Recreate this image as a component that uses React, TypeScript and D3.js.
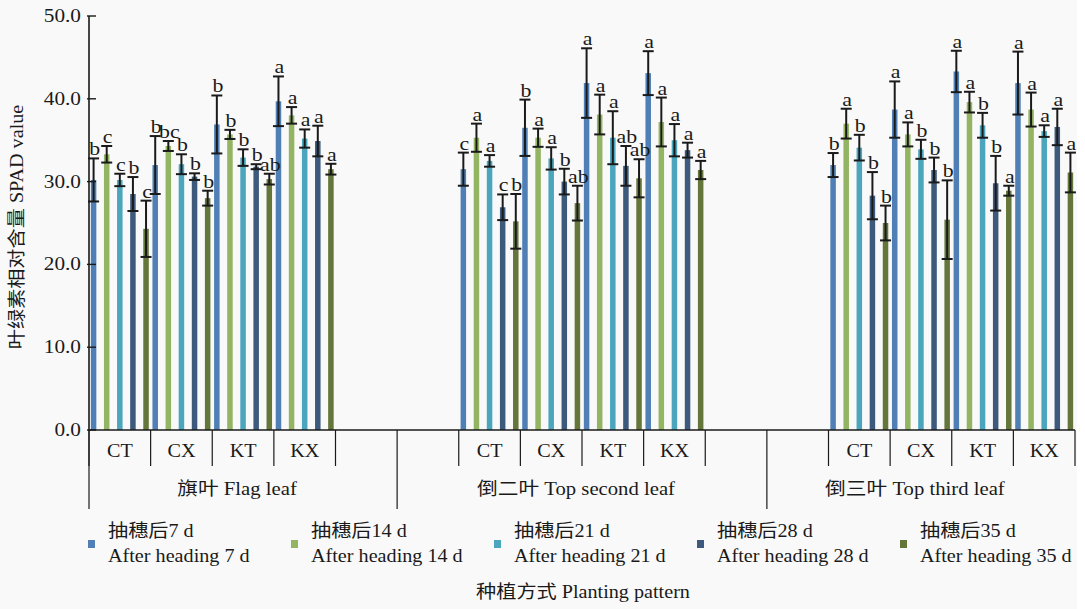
import * as d3 from "d3";
import React from "react";

// leaf positions and planting patterns
const leaves = ["旗叶 Flag leaf", "倒二叶 Top second leaf", "倒三叶 Top third leaf"];
const patterns = ["CT", "CX", "KT", "KX"];

// series: days after heading
const seriesKeys = ["d7", "d14", "d21", "d28", "d35"];
const legendCn = ["抽穗后7 d", "抽穗后14 d", "抽穗后21 d", "抽穗后28 d", "抽穗后35 d"];
const legendEn = ["After heading 7 d", "After heading 14 d", "After heading 21 d", "After heading 28 d", "After heading 35 d"];
const colors = ["#4f7fb5", "#93b462", "#4aa5bd", "#3d5a7c", "#64763a"];

// values ordered Flag CT,CX,KT,KX | Second CT..KX | Third CT..KX
const mean7 = [30.2, 32.0, 36.9, 39.7, 31.5, 36.5, 41.9, 43.1, 32.0, 38.7, 43.3, 41.9];
const err7 = [2.6, 3.5, 3.5, 3.0, 2.0, 3.4, 4.2, 2.65, 1.45, 3.4, 2.5, 3.8];
const sig7 = ["b", "b", "b", "a", "c", "b", "a", "a", "b", "a", "a", "a"];

const mean14 = [33.3, 34.3, 35.7, 38.0, 35.3, 35.3, 38.1, 37.2, 37.0, 35.7, 39.6, 38.7];
const err14 = [1.0, 0.6, 0.55, 1.0, 1.7, 1.1, 2.4, 2.95, 1.8, 1.45, 1.25, 2.05];
const sig14 = ["c", "bc", "b", "a", "a", "a", "a", "a", "a", "a", "a", "a"];

const mean21 = [30.2, 32.1, 32.9, 35.2, 32.5, 32.8, 35.3, 35.0, 34.1, 33.9, 36.8, 36.1];
const err21 = [0.75, 1.2, 1.0, 1.1, 0.7, 1.35, 3.2, 1.95, 1.55, 1.15, 1.5, 0.7];
const sig21 = ["c", "b", "b", "a", "a", "a", "a", "a", "b", "b", "b", "a"];

const mean28 = [28.5, 30.6, 31.8, 34.9, 26.9, 30.0, 31.9, 33.8, 28.3, 31.4, 29.8, 36.6];
const err28 = [2.05, 0.4, 0.3, 1.85, 1.55, 1.55, 2.4, 0.9, 2.85, 1.5, 3.3, 2.2];
const sig28 = ["b", "b", "b", "a", "c", "b", "ab", "a", "b", "b", "b", "a"];

const mean35 = [24.3, 28.0, 30.3, 31.5, 25.2, 27.4, 30.4, 31.4, 25.0, 25.4, 28.9, 31.1];
const err35 = [3.4, 0.9, 0.65, 0.65, 3.3, 2.1, 2.3, 1.1, 2.1, 4.75, 0.6, 2.4];
const sig35 = ["c", "b", "ab", "a", "b", "ab", "ab", "a", "b", "b", "a", "a"];

const yTicks = [0, 10, 20, 30, 40, 50];

const means = [mean7, mean14, mean21, mean28, mean35];
const errs = [err7, err14, err21, err28, err35];
const sigs = [sig7, sig14, sig21, sig28, sig35];

const W = 1085, H = 609;
const m = { l: 89, r: 1075, t: 16, b: 430 };
const FONT = "'Liberation Serif','Times New Roman','Noto Sans CJK SC',serif";

const T: React.FC<{ x: number, y: number, size?: number, anchor?: string, rotate?: number, children: React.ReactNode }> =
  ({ x, y, size = 18, anchor = "middle", rotate = 0, children }) => (
    <text transform={`translate(${x},${y}) rotate(${rotate}) scale(1.12,1)`} textAnchor={anchor}
      fontSize={size} fontFamily={FONT} fill="#1a1a1a">{children}</text>
  )

const App: React.FC = () => {
  // slot domain: 4 patterns per leaf, two empty slots between leaves
  const slots: string[] = []
  leaves.forEach((_, i) => {
    patterns.forEach(p => slots.push(`${i}-${p}`))
    if (i < leaves.length - 1) { slots.push(`gap${i}a`); slots.push(`gap${i}b`) }
  })

  const x0 = d3.scaleBand(slots, [m.l, m.r]).padding(0)
  const x1 = d3.scaleBand(seriesKeys, [0, x0.bandwidth()]).paddingInner(0.58).paddingOuter(0.14)
  const y = d3.scaleLinear([0, 50], [m.b, m.t])

  const cats = leaves.flatMap((_, i) => patterns.map(p => `${i}-${p}`))
  const legendX = d3.scalePoint(seriesKeys, [108, 920])

  const shortTicks: number[] = []
  leaves.forEach((_, i) => {
    patterns.forEach(p => shortTicks.push(x0(`${i}-${p}`)!))
    shortTicks.push(x0(`${i}-KX`)! + x0.bandwidth())
  })
  const longTicks = [m.l, ...leaves.slice(0, -1).map((_, i) => x0(`gap${i}b`)!)]
  const leafSpan = (i: number) => {
    const a = i === 0 ? m.l : x0(`gap${i - 1}b`)!
    const b = i === leaves.length - 1 ? m.r : x0(`gap${i}b`)!
    return (a + b) / 2
  }

  return (
    <svg width={W} height={H} style={{ position: "absolute", left: 0, top: 0 }}>
      <rect width={W} height={H} fill="#f9f9f9" />
      <rect x={1077} width={W - 1077} height={H} fill="#ffffff" />

      {/* bars */}
      {seriesKeys.map((s, si) => (
        <g key={s}>
          {cats.map((c, ci) => {
            const bx = x0(c)! + x1(s)!
            const cx = bx + x1.bandwidth() / 2
            const v = means[si][ci], e = errs[si][ci]
            return (
              <g key={c}>
                <rect x={bx} width={x1.bandwidth()} y={y(v)} height={y(0) - y(v)} fill={colors[si]} />
                <g stroke="#1a1a1a" strokeWidth={2}>
                  <line x1={cx} x2={cx} y1={y(v + e)} y2={y(v - e)} />
                  <line x1={cx - 5.5} x2={cx + 5.5} y1={y(v + e)} y2={y(v + e)} />
                  <line x1={cx - 5.5} x2={cx + 5.5} y1={y(v - e)} y2={y(v - e)} />
                </g>
                <T x={cx + 1} y={y(v + e) - 3} size={19.5}>{sigs[si][ci]}</T>
              </g>
            )
          })}
        </g>
      ))}

      {/* y axis */}
      <line x1={m.l} x2={m.l} y1={m.t} y2={m.b} stroke="#1a1a1a" strokeWidth={1.6} />
      {yTicks.map(t => (
        <g key={t}>
          <line x1={m.l - 2} x2={m.l + 7} y1={y(t)} y2={y(t)} stroke="#1a1a1a" strokeWidth={1.4} />
          <T x={81} y={y(t) + 6} anchor="end" size={19}>{t.toFixed(1)}</T>
        </g>
      ))}
      <T x={23} y={(m.t + m.b) / 2 + 4} rotate={-90}>叶绿素相对含量 SPAD value</T>

      {/* x axis */}
      <line x1={m.l} x2={m.r} y1={m.b} y2={m.b} stroke="#1a1a1a" strokeWidth={1.6} />
      {shortTicks.map((t, i) => (
        <line key={i} x1={t} x2={t} y1={m.b} y2={466} stroke="#1a1a1a" strokeWidth={1.2} />
      ))}
      {longTicks.map((t, i) => (
        <line key={i} x1={t} x2={t} y1={m.b} y2={509} stroke="#1a1a1a" strokeWidth={1.2} />
      ))}
      {cats.map(c => (
        <T key={c} x={x0(c)! + x0.bandwidth() / 2} y={457}>{c.split("-")[1]}</T>
      ))}
      {leaves.map((l, i) => (
        <T key={l} x={leafSpan(i) - 6} y={495} size={18.5}>{l}</T>
      ))}

      {/* legend */}
      {seriesKeys.map((s, si) => (
        <g key={s}>
          <rect x={legendX(s)! - 20} y={540} width={7} height={8} fill={colors[si]} />
          <T x={legendX(s)!} y={537} anchor="start">{legendCn[si]}</T>
          <T x={legendX(s)!} y={562} anchor="start">{legendEn[si]}</T>
        </g>
      ))}

      <T x={583} y={598}>种植方式 Planting pattern</T>
    </svg>
  )
}

export default App
